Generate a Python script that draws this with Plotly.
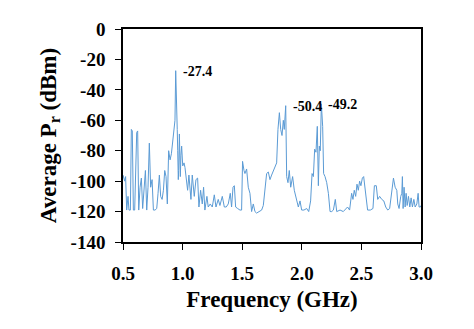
import plotly.graph_objects as go

# Frequency (GHz) and average received power (dBm)
freq_ghz = [
    0.500, 0.514, 0.522, 0.531, 0.542, 0.550, 0.562, 0.570, 0.578, 0.587,
    0.598, 0.606, 0.615, 0.623, 0.632, 0.643, 0.654, 0.665, 0.676, 0.688,
    0.699, 0.710, 0.721, 0.732, 0.744, 0.755, 0.769, 0.783, 0.794, 0.805,
    0.816, 0.828, 0.839, 0.850, 0.861, 0.872, 0.883, 0.895, 0.906, 0.917,
    0.928, 0.936, 0.942, 0.946, 0.950, 0.955, 0.959, 0.964, 0.967, 0.973,
    0.981, 0.986, 0.992, 1.001, 1.012, 1.020, 1.042, 1.053, 1.070, 1.081,
    1.098, 1.112, 1.126, 1.137, 1.151, 1.165, 1.176, 1.187, 1.204, 1.215,
    1.232, 1.249, 1.266, 1.280, 1.299, 1.313, 1.333, 1.350, 1.366, 1.383,
    1.400, 1.411, 1.423, 1.434, 1.445, 1.462, 1.481, 1.495, 1.503, 1.515,
    1.523, 1.537, 1.551, 1.565, 1.579, 1.593, 1.607, 1.621, 1.644, 1.663,
    1.677, 1.694, 1.705, 1.719, 1.733, 1.747, 1.761, 1.775, 1.789, 1.800,
    1.812, 1.823, 1.834, 1.845, 1.853, 1.865, 1.873, 1.884, 1.895, 1.907,
    1.923, 1.937, 1.951, 1.971, 1.985, 1.999, 2.018, 2.041, 2.058, 2.074,
    2.086, 2.097, 2.108, 2.119, 2.130, 2.139, 2.147, 2.155, 2.164, 2.175,
    2.183, 2.195, 2.209, 2.223, 2.237, 2.251, 2.265, 2.281, 2.293, 2.321,
    2.348, 2.362, 2.384, 2.401, 2.418, 2.429, 2.440, 2.452, 2.463, 2.474,
    2.485, 2.496, 2.508, 2.519, 2.530, 2.541, 2.552, 2.575, 2.597, 2.609,
    2.625, 2.637, 2.653, 2.671, 2.688, 2.704, 2.721, 2.737, 2.755, 2.769,
    2.783, 2.797, 2.805, 2.816, 2.830, 2.839, 2.844, 2.850, 2.858, 2.867,
    2.875, 2.884, 2.895, 2.906, 2.917, 2.928, 2.940, 2.951, 2.965, 2.976,
    2.984, 2.995, 3.000,
]
avg_pr_dbm = [
    -96, -100, -97, -119, -110, -119, -119, -66, -67, -119,
    -119, -88, -68, -67, -119, -104, -98, -118, -108, -93,
    -119, -104, -75, -104, -99, -119, -119, -118, -108, -96,
    -110, -112, -106, -93, -97, -115, -80, -86, -82, -75,
    -66, -60, -27.4, -36, -45, -66, -80, -99, -93, -69,
    -97, -83, -77, -90, -88, -91, -106, -96, -112, -96,
    -110, -99, -98, -117, -106, -115, -104, -119, -110, -117,
    -115, -117, -109, -117, -112, -116, -110, -117, -117, -115,
    -108, -117, -104, -103, -117, -118, -119, -119, -87, -93,
    -95, -92, -104, -108, -120, -115, -120, -121, -120, -119,
    -116, -105, -95, -94, -99, -96, -93, -91, -88, -66,
    -55, -66, -70, -60, -66, -50.4, -97, -101, -93, -104,
    -97, -106, -110, -117, -113, -119, -119, -118, -120, -113,
    -95, -97, -79, -81, -64, -103, -77, -80, -49.2, -64,
    -95, -97, -101, -108, -120, -120, -119, -112, -120, -119,
    -120, -119, -117, -119, -108, -112, -106, -110, -102, -106,
    -100, -103, -98, -97, -104, -112, -119, -119, -118, -103,
    -103, -112, -110, -112, -113, -117, -119, -118, -106, -98,
    -104, -106, -115, -118, -110, -108, -97, -118, -104, -117,
    -108, -116, -110, -117, -111, -117, -112, -117, -115, -108,
    -117, -117, -116,
]
assert len(freq_ghz) == len(avg_pr_dbm)

# peak labels
peak_freq = [0.942, 1.865, 2.164]
peak_dbm = [-27.4, -50.4, -49.2]

y_ticks = [0, -20, -40, -60, -80, -100, -120, -140]
x_ticks = [0.5, 1.0, 1.5, 2.0, 2.5, 3.0]

font = "Liberation Serif"

fig = go.Figure()
fig.add_trace(go.Scatter(
    x=freq_ghz, y=avg_pr_dbm,
    mode="lines",
    line=dict(color="#5B9BD5", width=1),
    showlegend=False,
))

for fx, fy in zip(peak_freq, peak_dbm):
    fig.add_annotation(
        x=fx, y=fy, text=f"<b>{fy:.1f}</b>",
        showarrow=False, xanchor="left", yanchor="middle",
        xshift=5, yshift=-1,
        font=dict(family=font, size=14, color="black"),
    )

axis_common = dict(
    showline=True, linecolor="black", linewidth=1.5, mirror=True,
    ticks="outside", ticklen=6, tickcolor="black", tickwidth=1,
    showgrid=False, zeroline=False, automargin=False,
    tickfont=dict(family=font, size=19, color="black"),
)

# the page body adds an 8px offset, so margins are trimmed for it
fig.update_layout(
    width=474, height=329,
    margin=dict(l=115, r=61, t=21, b=95),
    plot_bgcolor="white", paper_bgcolor="white",
    xaxis=dict(
        range=[0.5, 3.0], tickvals=x_ticks,
        ticktext=[f"<b>{v:.1f}</b>" for v in x_ticks],
        ticklabelstandoff=7,
        title=dict(text="<b>Frequency (GHz)</b>", standoff=8,
                   font=dict(family=font, size=23, color="black")),
        **axis_common,
    ),
    yaxis=dict(
        range=[-140, 0], tickvals=y_ticks,
        ticktext=[f"<b>{v}</b>" for v in y_ticks],
        ticklabelstandoff=6,
        title=dict(text="<b>Average P<sub>r</sub> (dBm)</b>", standoff=8,
                   font=dict(family=font, size=23, color="black")),
        **axis_common,
    ),
)

fig.write_html("out.html")
